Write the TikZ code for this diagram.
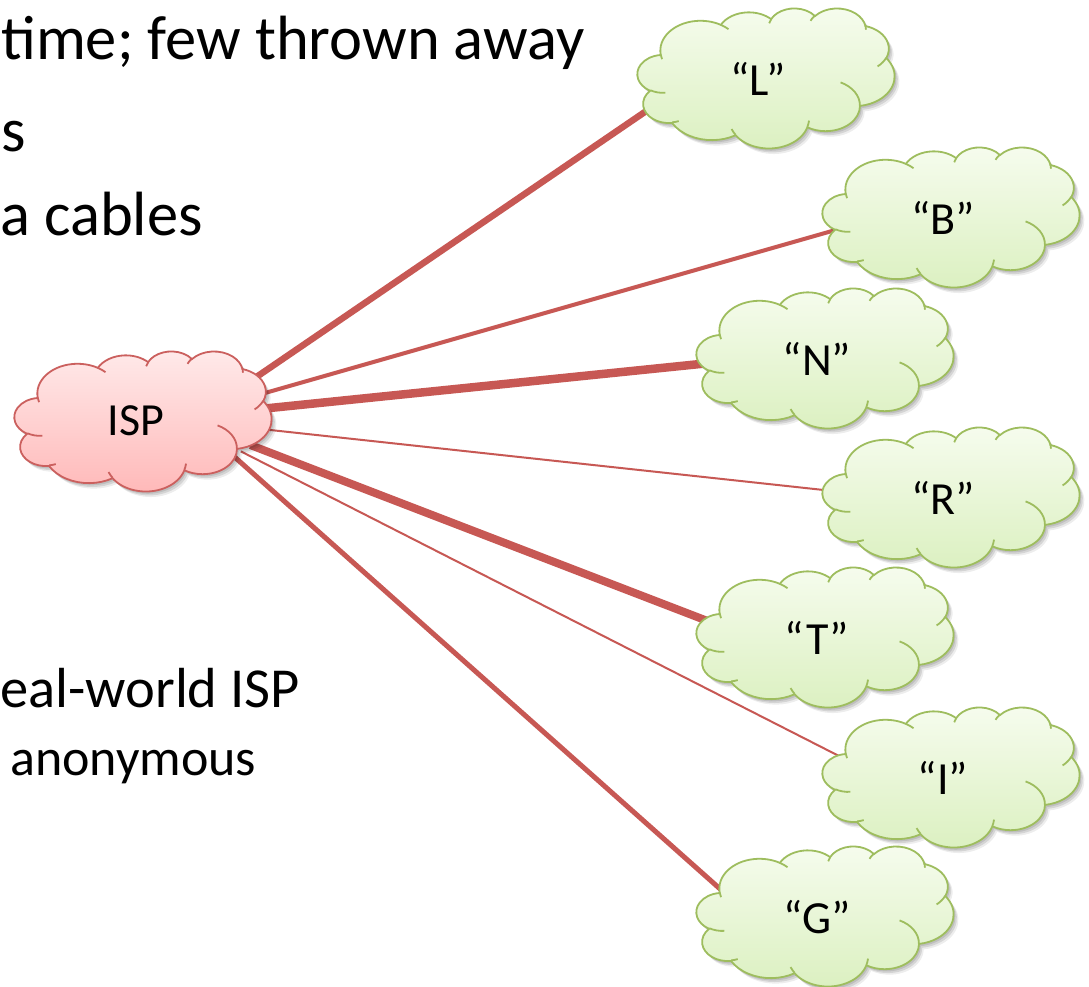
\documentclass[tikz,border=0pt]{standalone}
\usepackage{fontspec}
\setmainfont{Carlito}
\usetikzlibrary{calc}
\pgfdeclarelayer{links}
\pgfsetlayers{links,main}

\definecolor{linkred}{RGB}{199,88,84}
\definecolor{ispline}{RGB}{203,96,94}
\definecolor{isptop}{RGB}{255,234,234}
\definecolor{ispbot}{RGB}{255,184,184}
\definecolor{leafline}{RGB}{158,189,94}
\definecolor{leaftop}{RGB}{246,252,238}
\definecolor{leafbot}{RGB}{219,240,192}

% Cloud outline on a 4320 x 4320 grid, built from elliptic arcs whose
% start angle and sweep are given as seen from the arc centre.
\makeatletter
\newcommand\cldmove[2]{\xdef\cld@path{\cld@path (#1,#2)}}
\newcommand\cldarc[4]{%
  \pgfmathsetmacro\cld@s{atan2((#1)*sin(#3),(#2)*cos(#3))}%
  \pgfmathsetmacro\cld@e{atan2((#1)*sin(#3+#4),(#2)*cos(#3+#4))}%
  \pgfmathsetmacro\cld@e{ifthenelse(\cld@e<\cld@s,\cld@e+360,\cld@e)}%
  \xdef\cld@path{\cld@path arc[start angle=\cld@s, end angle=\cld@e, x radius=#1pt, y radius=#2pt]}%
}
% outer rim
\xdef\cld@path{}
\cldmove{390}{1437}
\cldarc{675.3}{919.0}{-190.487}{123.781}
\cldarc{533.3}{726.7}{-144.102}{89.945}
\cldarc{436.5}{594.5}{-145.808}{99.723}
\cldarc{485.7}{659.5}{-130.986}{117.242}
\cldarc{533.3}{727.3}{-78.709}{109.027}
\cldarc{677.5}{922.0}{-46.267}{130.269}
\cldarc{578.5}{786.7}{0.625}{114.033}
\cldarc{675.2}{921.5}{22.452}{115.173}
\cldarc{772.0}{1054.3}{66.243}{75.711}
\cldarc{436.0}{591.8}{-274.942}{146.736}
\cldarc{434.5}{594.5}{-246.829}{152.519}
\global\let\cloudoutline\cld@path
% small inner creases
\xdef\cld@path{}
\cldmove{469.3}{2617.7}\cldarc{434.5}{594.5}{86.742}{26.430}
\cldmove{692.8}{3489.9}\cldarc{436.0}{591.8}{73.610}{11.447}
\cldmove{1647.8}{3909.0}\cldarc{675.2}{921.5}{137.624}{14.081}
\cldmove{2882.7}{3475.1}\cldarc{675.2}{921.5}{6.453}{15.998}
\cldmove{3412.9}{2295.4}\cldarc{578.5}{786.7}{-70.292}{70.917}
\cldmove{4179.8}{1535.4}\cldarc{533.3}{727.3}{30.318}{27.752}
\cldmove{3832.4}{542.6}\cldarc{485.7}{659.5}{-13.744}{14.859}
\cldmove{2907.8}{395.2}\cldarc{485.7}{659.5}{-149.181}{18.195}
\cldmove{2214.1}{472.0}\cldarc{436.5}{594.5}{-163.494}{17.686}
\cldmove{1400.0}{519.2}\cldarc{675.3}{919.0}{-66.707}{12.319}
\cldmove{412.7}{1578.9}\cldarc{675.3}{919.0}{157.654}{11.858}
\global\let\cloudinner\cld@path
\makeatother

% one cloud, 257 x 140, centred at (#1,#2), styled by "#3 body" / "#3 arcs"
\newcommand\drawcloud[3]{%
  \begin{scope}[shift={(#1-128.5,#2-70)},xscale=0.059491,yscale=0.032407]
    \foreach \dx/\dy/\op in {30/70/.10,55/120/.10,80/170/.07}
      \path[fill=black,opacity=\op,shift={(\dx,\dy)}] \cloudoutline -- cycle;
    \path[#3 body] \cloudoutline -- cycle;
    \path[#3 arcs] \cloudinner;
  \end{scope}}

\tikzset{
  words/.style={anchor=base west,inner sep=0pt,font=\fontsize{62.5}{75}\selectfont},
  midwords/.style={anchor=base west,inner sep=0pt,font=\fontsize{56.5}{68}\selectfont},
  smallwords/.style={anchor=base west,inner sep=0pt,font=\fontsize{52}{62}\selectfont},
  cloudtag/.style={inner sep=0pt,font=\fontsize{46}{55}\selectfont},
  wire/.style={draw=linkred},
  isp body/.style={draw=ispline,line width=1.8pt,top color=isptop,bottom color=ispbot},
  isp arcs/.style={draw=ispline,line width=1.8pt},
  leaf body/.style={draw=leafline,line width=1.8pt,top color=leaftop,bottom color=leafbot},
  leaf arcs/.style={draw=leafline,line width=1.8pt},
}

\begin{document}
\begin{tikzpicture}[x=1pt,y=1pt,yscale=-1]
\useasboundingbox (0,0) rectangle (1089,987);

% bullet text
\node[words] (t1) at (1,60) {time; few thrown away};
\node[words] (t2) at (1,152) {s};
\node[words] (t3) at (0,235) {a cables};
\node[midwords] (t4) at (0,707) {eal-world ISP};
\node[smallwords] (t5) at (10,775) {anonymous};

% clouds
\drawcloud{143}{421}{isp}
\drawcloud{766}{78}{leaf}
\drawcloud{951}{217}{leaf}
\drawcloud{825}{358}{leaf}
\drawcloud{951}{497}{leaf}
\drawcloud{825}{637}{leaf}
\drawcloud{951}{777}{leaf}
\drawcloud{825}{916}{leaf}

% cloud labels
\node[cloudtag] (ISP) at (136,421) {ISP};
\node[cloudtag] (L) at (758,79) {“L”};
\node[cloudtag] (B) at (943,218) {“B”};
\node[cloudtag] (N) at (817,359) {“N”};
\node[cloudtag] (R) at (943,498) {“R”};
\node[cloudtag] (T) at (817,638) {“T”};
\node[cloudtag] (I) at (943,778) {“I”};
\node[cloudtag] (G) at (817,917) {“G”};

% white page and links, under the clouds
\begin{pgfonlayer}{links}
\fill[white] (0,0) rectangle (1089,987);
\draw[wire,line width=6.5pt] ($(ISP)+(110.7,-37.4)$) -- ($(L)+(-105,27.4)$);
\draw[wire,line width=4pt]   ($(ISP)+(121.3,-25.8)$) -- ($(B)+(-103.3,10.8)$);
\draw[wire,line width=8.5pt] ($(ISP)+(126,-12.2)$)   -- ($(N)+(-109,4.2)$);
\draw[wire,line width=2pt]   ($(ISP)+(126,8.1)$)     -- ($(R)+(-111,-7.1)$);
\draw[wire,line width=8pt]   ($(ISP)+(114.5,24.1)$)  -- ($(T)+(-104.5,-15.1)$);
\draw[wire,line width=2pt]   ($(ISP)+(104.9,30.4)$)  -- ($(I)+(-98.9,-19.4)$);
\draw[wire,line width=5pt]   ($(ISP)+(96,33.7)$)     -- ($(G)+(-92,-23.7)$);
\end{pgfonlayer}
\end{tikzpicture}
\end{document}
